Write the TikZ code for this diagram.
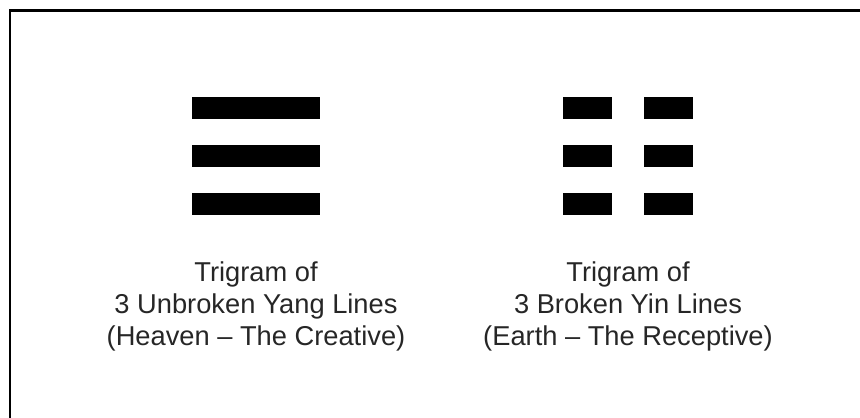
\documentclass[tikz,border=0pt]{standalone}
\usepackage{fontspec}
\setmainfont{Liberation Sans}
\usepackage{tikz}
\usetikzlibrary{positioning}

\begin{document}
\begin{tikzpicture}[
                yang/.style ={draw=none, fill=black, minimum width=3.2cm,
                        minimum height=0.55cm, inner sep=0pt},
                yin/.style  ={yang, minimum width=1.225cm},
                frame/.style={draw=black, line width=2.1pt},
                lbl/.style  ={font=\fontsize{19.4}{23}\selectfont, align=center,
                        text=black!85, inner sep=0pt}
            ]
            \useasboundingbox (0,0) rectangle (21.5,10.45);

            %% ---- frame (only the top and left edges show) ------------------
            \draw[frame] (0.25,0) -- (0.25,10.19) -- (21.5,10.19);

            %% ---- LEFT: heaven, three unbroken lines -------------------------
            \node[yang] (h1) at (6.4,7.75) {};
            \node[yang] (h2) at (6.4,6.55) {};
            \node[yang] (h3) at (6.4,5.35) {};
            \node[lbl, anchor=base] (heaven) at (6.4,1.8)
                {Trigram of\\3 Unbroken Yang Lines\\(Heaven -- The Creative)};

            %% ---- RIGHT: earth, three broken lines ---------------------------
            \node[yin] (e1l) at (14.69,7.75) {};
            \node[yin] (e1r) at (16.71,7.75) {};
            \node[yin] (e2l) at (14.69,6.55) {};
            \node[yin] (e2r) at (16.71,6.55) {};
            \node[yin] (e3l) at (14.69,5.35) {};
            \node[yin] (e3r) at (16.71,5.35) {};
            \node[lbl, anchor=base] (earth) at (15.7,1.8)
                {Trigram of\\3 Broken Yin Lines\\(Earth -- The Receptive)};

        \end{tikzpicture}
\end{document}
